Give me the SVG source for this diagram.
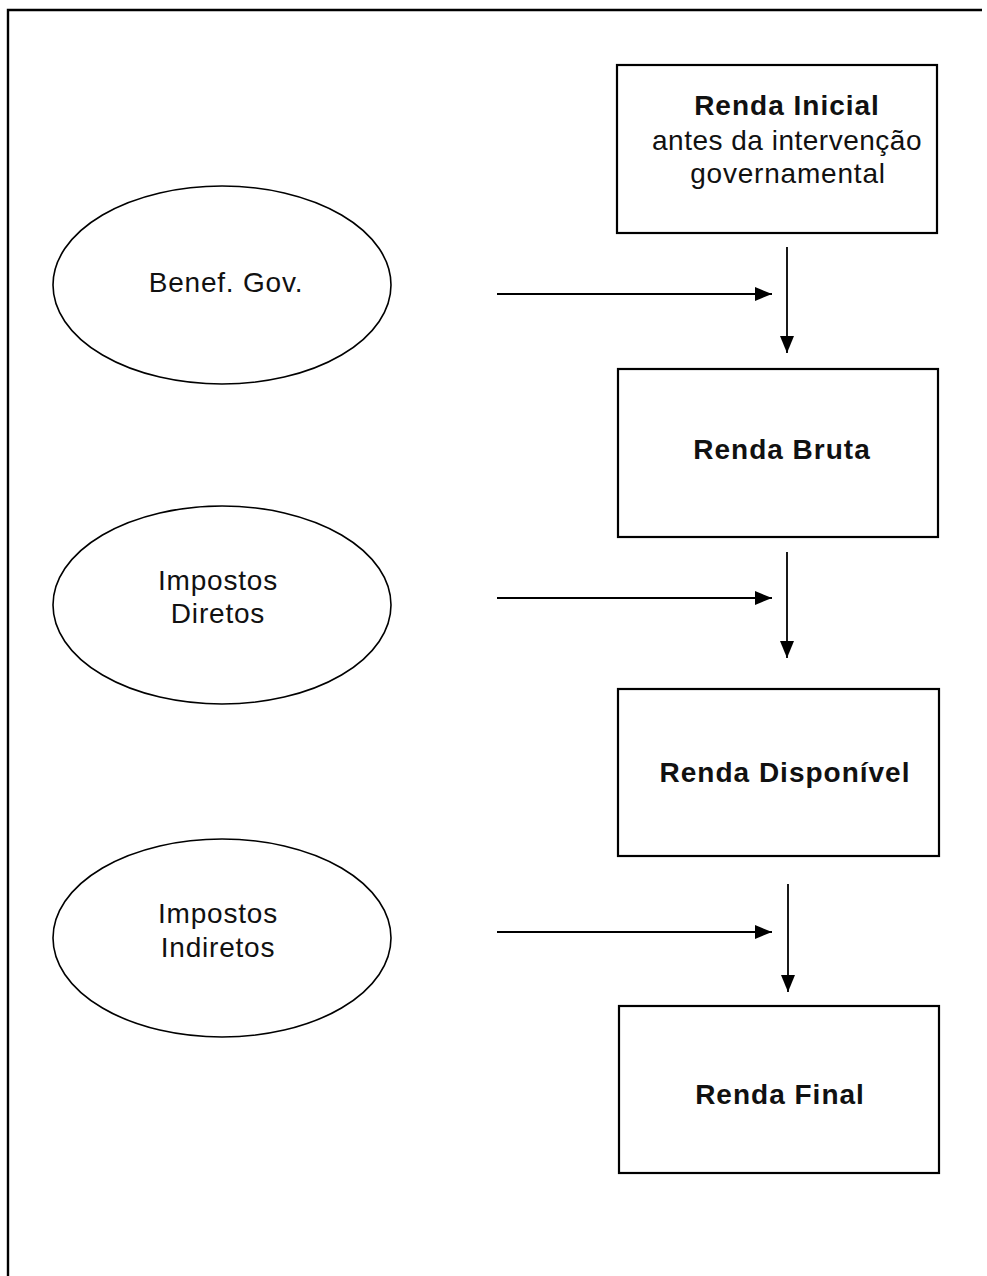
<svg xmlns="http://www.w3.org/2000/svg" width="987" height="1276" viewBox="0 0 987 1276">
<defs>
<style>
.box{fill:#fff;stroke:#000;stroke-width:2.2}
.ell{fill:#fff;stroke:#000;stroke-width:1.6}
.con{stroke:#000;stroke-width:1.8;fill:none}
.t{font-family:"Liberation Sans",Arial,sans-serif;font-size:28px;fill:#111;text-anchor:middle;letter-spacing:0.8px}
.b{font-weight:bold;letter-spacing:1px}
.n{letter-spacing:0.5px}
.frame{stroke:#000;stroke-width:2.4;fill:none}
</style>
<marker id="ah" markerUnits="userSpaceOnUse" markerWidth="18" markerHeight="16" refX="17" refY="8" orient="auto">
<path d="M0,1 L17,8 L0,15 Z" fill="#000"/>
</marker>
</defs>
<rect width="987" height="1276" fill="#fff"/>
<path class="frame" d="M8,1276 L8,10 L982,10"/>
<g id="renda-inicial">
<rect class="box" x="617" y="65" width="320" height="168"/>
<text class="t b" x="787" y="115">Renda Inicial</text>
<text class="t n" x="787" y="150">antes da intervenção</text>
<text class="t" x="788" y="183">governamental</text>
</g>
<g id="renda-bruta">
<rect class="box" x="618" y="369" width="320" height="168"/>
<text class="t b" x="782" y="459">Renda Bruta</text>
</g>
<g id="renda-disponivel">
<rect class="box" x="618" y="689" width="321" height="167"/>
<text class="t b" x="785" y="782">Renda Disponível</text>
</g>
<g id="renda-final">
<rect class="box" x="619" y="1006" width="320" height="167"/>
<text class="t b" x="780" y="1104">Renda Final</text>
</g>
<g id="benef-gov">
<ellipse class="ell" cx="222" cy="285" rx="169" ry="99"/>
<text class="t" x="226" y="292">Benef. Gov.</text>
</g>
<g id="impostos-diretos">
<ellipse class="ell" cx="222" cy="605" rx="169" ry="99"/>
<text class="t" x="218" y="590">Impostos</text>
<text class="t" x="218" y="623">Diretos</text>
</g>
<g id="impostos-indiretos">
<ellipse class="ell" cx="222" cy="938" rx="169" ry="99"/>
<text class="t" x="218" y="923">Impostos</text>
<text class="t" x="218" y="957">Indiretos</text>
</g>
<g id="connectors">
<line class="con" x1="497" y1="294" x2="772" y2="294" marker-end="url(#ah)"/>
<line class="con" x1="787" y1="247" x2="787" y2="353" marker-end="url(#ah)"/>
<line class="con" x1="497" y1="598" x2="772" y2="598" marker-end="url(#ah)"/>
<line class="con" x1="787" y1="552" x2="787" y2="658" marker-end="url(#ah)"/>
<line class="con" x1="497" y1="932" x2="772" y2="932" marker-end="url(#ah)"/>
<line class="con" x1="788" y1="884" x2="788" y2="992" marker-end="url(#ah)"/>
</g>
</svg>
